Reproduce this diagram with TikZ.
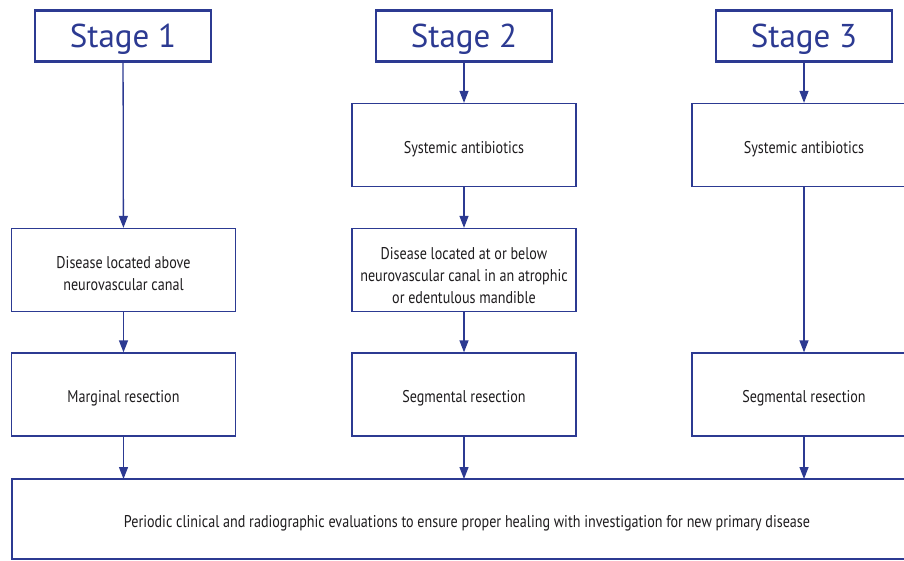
\documentclass[tikz,border=0pt]{standalone}
\usepackage{fontspec}
\setmainfont{PT Sans}
\newfontfamily\condfont[FakeStretch=0.83]{PT Sans}
\usetikzlibrary{arrows.meta}
\definecolor{dblue}{RGB}{44,58,146}
\definecolor{txt}{RGB}{30,28,30}
\begin{document}
\begin{tikzpicture}[x=1pt,y=-1pt,
  stagebox/.style={draw=dblue,line width=2.6pt,fill=white,minimum width=176pt,minimum height=51pt,inner sep=0pt,text depth=0pt,font=\fontsize{33}{36}\selectfont,text=dblue},
  boxbase/.style={draw=dblue,line width=1.3pt,fill=white,minimum width=224pt,minimum height=83pt,inner sep=0pt,font=\condfont\fontsize{17}{22}\selectfont,text=txt},
  stepbox/.style={boxbase,execute at begin node={\rule{0pt}{20pt}}},
  conn/.style={draw=dblue,line width=1.3pt,-{Triangle[length=12pt,width=9pt]}}]
\useasboundingbox (0,0) rectangle (904,560);
% stage boxes
\node[stagebox] (s1) at (123,36) {Stage 1};
\node[stagebox] (s2) at (464,36) {Stage 2};
\node[stagebox] (s3) at (804,36) {Stage 3};
% antibiotics
\node[stepbox] (a2) at (464,145) {Systemic antibiotics};
\node[stepbox] (a3) at (804,145) {Systemic antibiotics};
% disease
\node[boxbase,text height=18.5pt,text depth=0pt] (d1) at (123.5,270) {\begin{tabular}{@{}c@{}}Disease located above\\neurovascular canal\end{tabular}};
\node[boxbase,text height=22.5pt,text depth=0pt] (d2) at (464,270) {\begin{tabular}{@{}c@{}}Disease located at or below\\neurovascular canal in an atrophic\\or edentulous mandible\end{tabular}};
% resections
\node[stepbox] (r1) at (123.5,394.5) {Marginal resection};
\node[stepbox] (r2) at (464,394.5) {Segmental resection};
\node[stepbox] (r3) at (804,394.5) {Segmental resection};
% bottom
\node[stepbox,minimum width=910pt,minimum height=80pt] (b) at (467,519) {Periodic clinical and radiographic evaluations to ensure proper healing with investigation for new primary disease};
% connectors
\draw[conn] (s1) -- (d1);
\draw[conn] (d1) -- (r1);
\draw[conn] (s2) -- (a2);
\draw[conn] (a2) -- (d2);
\draw[conn] (d2) -- (r2);
\draw[conn] (s3) -- (a3);
\draw[conn] (a3) -- (r3);
\coordinate (b1) at (123.5,479);
\coordinate (b2) at (464,479);
\coordinate (b3) at (804,479);
\draw[conn] (r1) -- (b1);
\draw[conn] (r2) -- (b2);
\draw[conn] (r3) -- (b3);
\end{tikzpicture}
\end{document}
